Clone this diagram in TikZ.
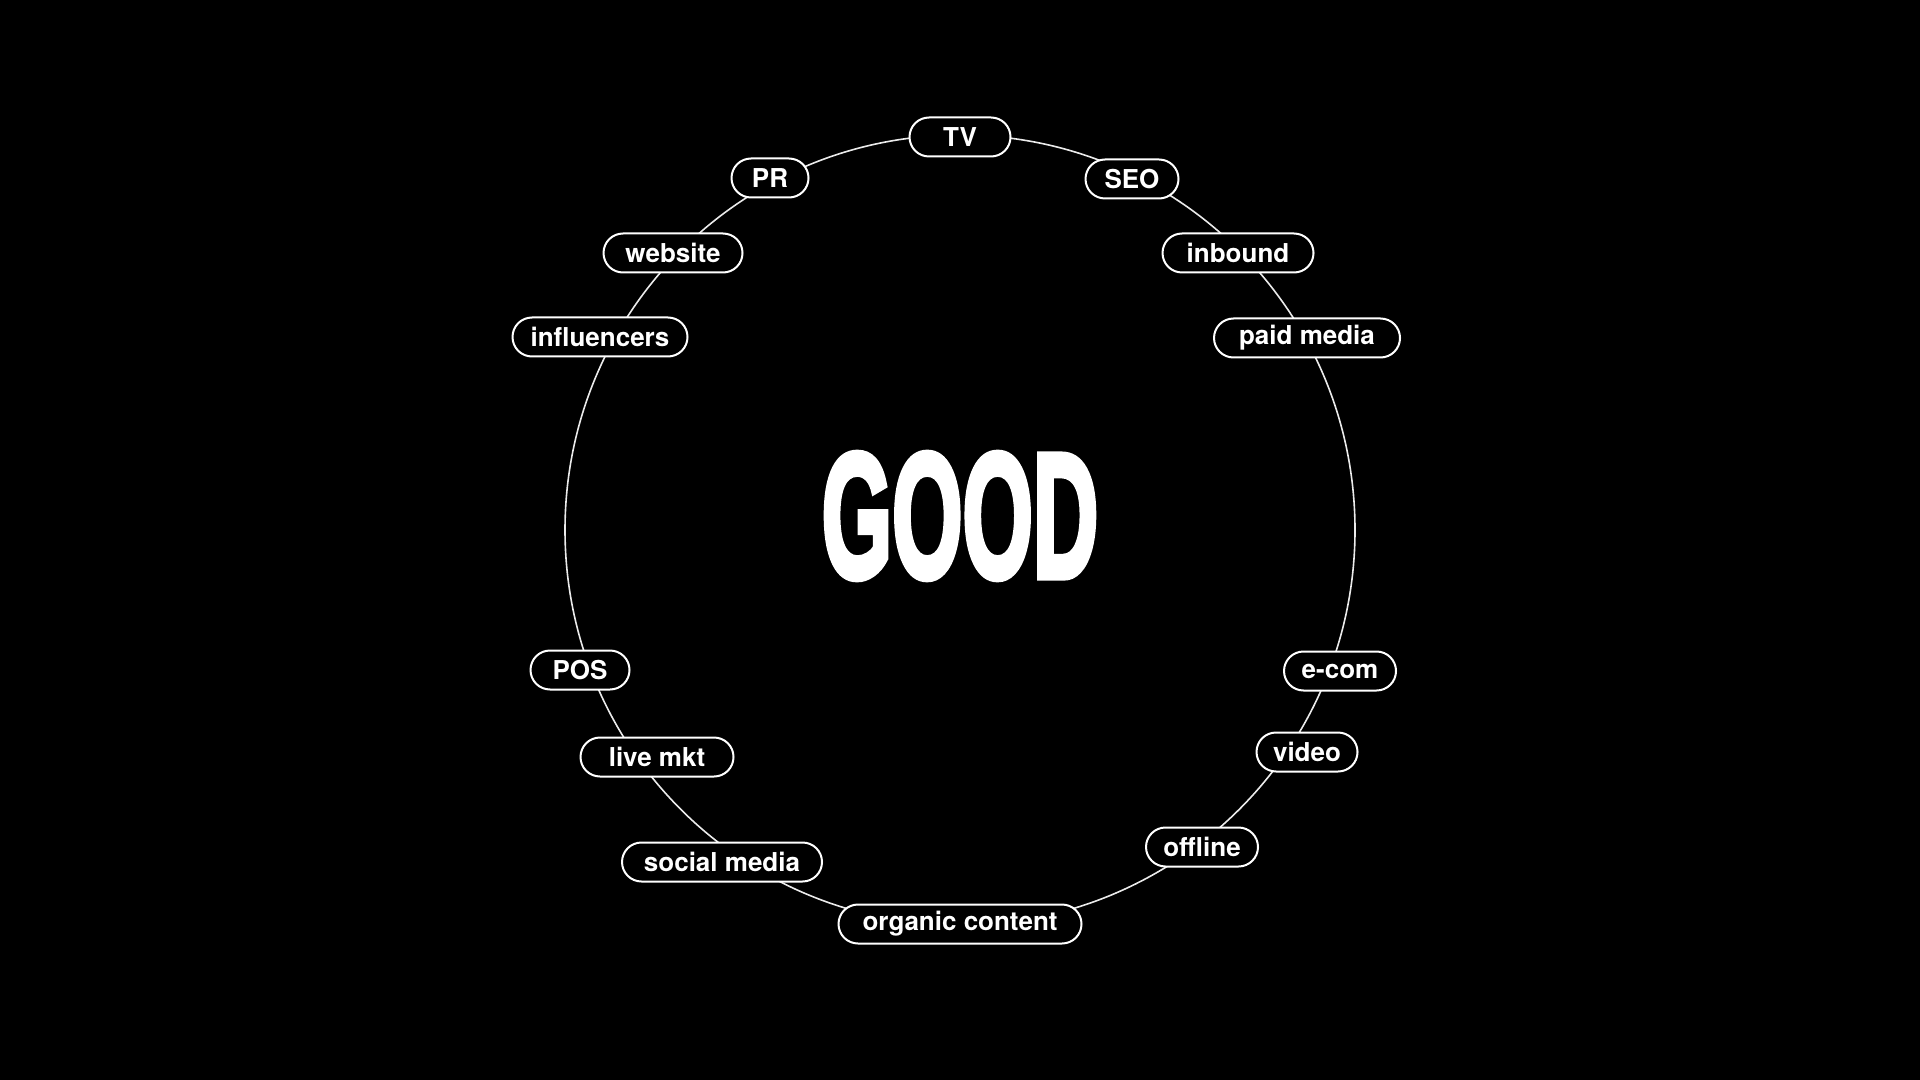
\documentclass[tikz,border=0pt]{standalone}
\usepackage{fontspec}
\setmainfont{TeX Gyre Heros}
\newfontfamily\goodfont[FakeBold=4]{Liberation Sans Bold}
\usepackage{tikz}
\usetikzlibrary{backgrounds,positioning}

\begin{document}
\begin{tikzpicture}
	[x=0.5pt,y=-0.5pt,
	pill/.style={rectangle,rounded corners=9.75pt,draw=white,fill=black,line width=1pt,
		text=white,inner sep=0pt,minimum height=19.5pt,
		font=\fontsize{13}{15}\selectfont\bfseries},
	ring/.style={draw=white!92!black,line width=0.8pt}]
	\fill[black] (0,0) rectangle (1920,1080);
	\useasboundingbox (0,0) rectangle (1920,1080);
	%anillo
	\draw[ring] (960,530) circle [radius=395];
	%centro
	\node (good) at (960,516) [text=white,inner sep=0pt,xscale=0.51] {\goodfont\fontsize{88.7}{90}\selectfont GOOD};
	%canales arriba
	\node (tv) at (960,137) [pill,minimum width=50.5pt] {TV};
	\node (pr) at (770,178) [pill,minimum width=38.5pt] {PR};
	\node (seo) at (1132,179) [pill,minimum width=46.5pt] {SEO};
	\node (website) at (673,253) [pill,minimum width=69.5pt] {website};
	\node (inbound) at (1238,253) [pill,minimum width=75.5pt] {inbound};
	\node (influencers) at (600,337) [pill,minimum width=87.5pt] {influencers};
	\node (paidmedia) at (1307,338) [pill,minimum width=93pt] {paid media};
	%canales abajo
	\node (pos) at (580,670) [pill,minimum width=49.5pt] {POS};
	\node (ecom) at (1340,671) [pill,minimum width=56pt] {e-com};
	\node (livemkt) at (657,757) [pill,minimum width=76.5pt] {live mkt};
	\node (video) at (1307,752) [pill,minimum width=50.5pt] {video};
	\node (socialmedia) at (722,862) [pill,minimum width=100pt] {social media};
	\node (offline) at (1202,847) [pill,minimum width=56pt] {offline};
	\node (organic) at (960,924) [pill,minimum width=121.5pt] {organic content};
\end{tikzpicture}
\end{document}
